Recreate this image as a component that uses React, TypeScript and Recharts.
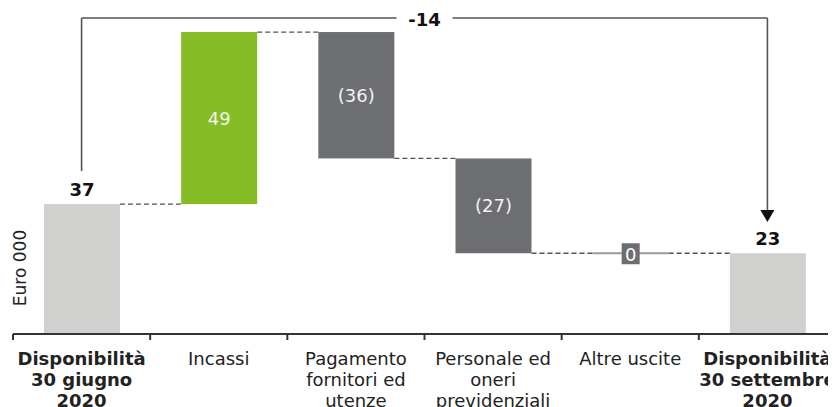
import React from "react";
import {
  Bar,
  BarChart,
  LabelList,
  ReferenceDot,
  ReferenceLine,
  XAxis,
  YAxis,
} from "recharts";

const categories = [
  "Disponibilità\n30 giugno\n2020",
  "Incassi",
  "Pagamento\nfornitori ed\nutenze",
  "Personale ed\noneri\nprevidenziali",
  "Altre uscite",
  "Disponibilità\n30 settembre\n2020",
];
const deltas = [37, 49, -36, -27, 0, 23];
const kinds = ["total", "up", "down", "down", "down", "total"];
const valueLabels = ["37", "49", "(36)", "(27)", "0", "23"];
const bridgeLabel = "-14";
const yTitle = "Euro 000";

const colors: Record<string, string> = {
  total: "#d0d0ce",
  up: "#86bc25",
  down: "#6d6e71",
};

// build base/value pairs for the stacked waterfall
let level = 0;
const data = categories.map((name, i) => {
  const d = deltas[i];
  const kind = kinds[i];
  let base = 0;
  let value = 0;
  if (kind === "total") {
    base = 0;
    value = d;
    level = d;
  } else if (kind === "up") {
    base = level;
    value = d;
    level += d;
  } else {
    level += d;
    base = level;
    value = -d;
  }
  return { name, base, value, kind, label: valueLabels[i], color: colors[kind] };
});

const FONT = "DejaVu Sans";
const FS = 18;
const WIDTH = 828;
const HEIGHT = 399;
const LEFT = 5;
const BAND = (WIDTH - LEFT) / categories.length;
const BAR = 76;
const GAP = BAND - BAR;

const WaterfallBar = (props: any) => {
  const { x, y, width, height, payload, index } = props;
  const kind = payload?.kind ?? kinds[index];
  const endY = kind === "down" ? y + height : y;
  const last = index === categories.length - 1;
  return (
    <g>
      {height > 0.5 ? (
        <rect x={x} y={y} width={width} height={height} fill={payload?.color} />
      ) : (
        <line x1={x} x2={x + width} y1={y} y2={y} stroke="#9a9a9a" strokeWidth={2} />
      )}
      {!last && (
        <line
          x1={x + width}
          x2={x + width + GAP}
          y1={endY}
          y2={endY}
          stroke="#555"
          strokeWidth={1.3}
          strokeDasharray="5 3"
        />
      )}
    </g>
  );
};

const ValueLabel = (props: any) => {
  const { x, y, width, height, index, value } = props;
  const kind = kinds[index];
  const cx = x + width / 2;
  if (kind === "total") {
    return (
      <text x={cx} y={y - 8} textAnchor="middle" fontFamily={FONT} fontSize={FS} fontWeight="bold" fill="#111">
        {value}
      </text>
    );
  }
  if (height < 0.5) {
    return (
      <g>
        <rect x={cx - 9} y={y - 10} width={18} height={21} fill={colors.down} />
        <text x={cx} y={y + 1} textAnchor="middle" dominantBaseline="central" fontFamily={FONT} fontSize={FS} fill="#fff">
          {value}
        </text>
      </g>
    );
  }
  return (
    <text x={cx} y={y + height / 2} textAnchor="middle" dominantBaseline="central" fontFamily={FONT} fontSize={FS} fill="#f2f2f2">
      {value}
    </text>
  );
};

const CategoryTick = (props: any) => {
  const { x, y, payload, index } = props;
  const lines = String(payload.value).split("\n");
  const bold = kinds[index] === "total";
  const last = index === categories.length - 1;
  const left = x - BAND / 2;
  return (
    <g>
      <line x1={left} x2={left} y1={y} y2={y + 6} stroke="#333" strokeWidth={2} />
      {last && <line x1={x + BAND / 2} x2={x + BAND / 2} y1={y} y2={y + 6} stroke="#333" strokeWidth={2} />}
      {index === 0 && (
        <text
          x={left + 7}
          y={y - 66}
          transform={`rotate(-90 ${left + 7} ${y - 66})`}
          textAnchor="middle"
          dominantBaseline="central"
          fontFamily={FONT}
          fontSize={17}
          fill="#222"
        >
          {yTitle}
        </text>
      )}
      <text x={x} y={y + 31} textAnchor="middle" fontFamily={FONT} fontSize={FS} fontWeight={bold ? "bold" : "normal"} fill="#222">
        {lines.map((l, i) => (
          <tspan key={i} x={x} dy={i === 0 ? 0 : 21}>
            {l}
          </tspan>
        ))}
      </text>
    </g>
  );
};

const BridgeLabel = (props: any) => {
  const vb = props.viewBox || {};
  const cx = vb.x + (vb.width || 0) / 2;
  const cy = vb.y;
  return (
    <g>
      <rect x={cx - 28} y={cy - 10} width={56} height={20} fill="#fff" />
      <text x={cx} y={cy + 1} textAnchor="middle" dominantBaseline="central" fontFamily={FONT} fontSize={FS} fontWeight="bold" fill="#111">
        {bridgeLabel}
      </text>
    </g>
  );
};

const ArrowHead = (props: any) => {
  const { cx, cy } = props;
  return <path d={`M${cx - 7},${cy} L${cx + 7},${cy} L${cx},${cy + 12} Z`} fill="#111" />;
};

export default function App() {
  const first = categories[0];
  const lastCat = categories[categories.length - 1];
  return (
    <div style={{ width: WIDTH, height: HEIGHT, fontFamily: FONT }}>
      <BarChart width={WIDTH} height={HEIGHT} data={data} margin={{ top: 10, right: 0, left: LEFT, bottom: 0 }} barSize={BAR}>
        <XAxis
          dataKey="name"
          height={73}
          interval={0}
          axisLine={{ stroke: "#333", strokeWidth: 2 }}
          tickLine={false}
          tickSize={0}
          tickMargin={0}
          tick={<CategoryTick />}
        />
        <YAxis width={0} domain={[0, 90]} allowDataOverflow tick={false} axisLine={false} tickLine={false} />
        <Bar dataKey="base" stackId="w" fill="none" isAnimationActive={false} />
        <Bar dataKey="value" stackId="w" shape={<WaterfallBar />} isAnimationActive={false}>
          <LabelList dataKey="label" content={<ValueLabel />} />
        </Bar>
        <ReferenceLine
          segment={[{ x: first, y: 90 }, { x: lastCat, y: 90 }]}
          stroke="#555"
          strokeWidth={1.6}
          ifOverflow="visible"
          label={<BridgeLabel />}
        />
        <ReferenceLine
          segment={[{ x: first, y: 90 }, { x: first, y: 46.4 }]}
          stroke="#555"
          strokeWidth={1.6}
          ifOverflow="visible"
        />
        <ReferenceLine
          segment={[{ x: lastCat, y: 90 }, { x: lastCat, y: 35.3 }]}
          stroke="#555"
          strokeWidth={1.6}
          ifOverflow="visible"
        />
        <ReferenceDot x={lastCat} y={35.3} ifOverflow="visible" shape={<ArrowHead />} />
      </BarChart>
    </div>
  );
}
